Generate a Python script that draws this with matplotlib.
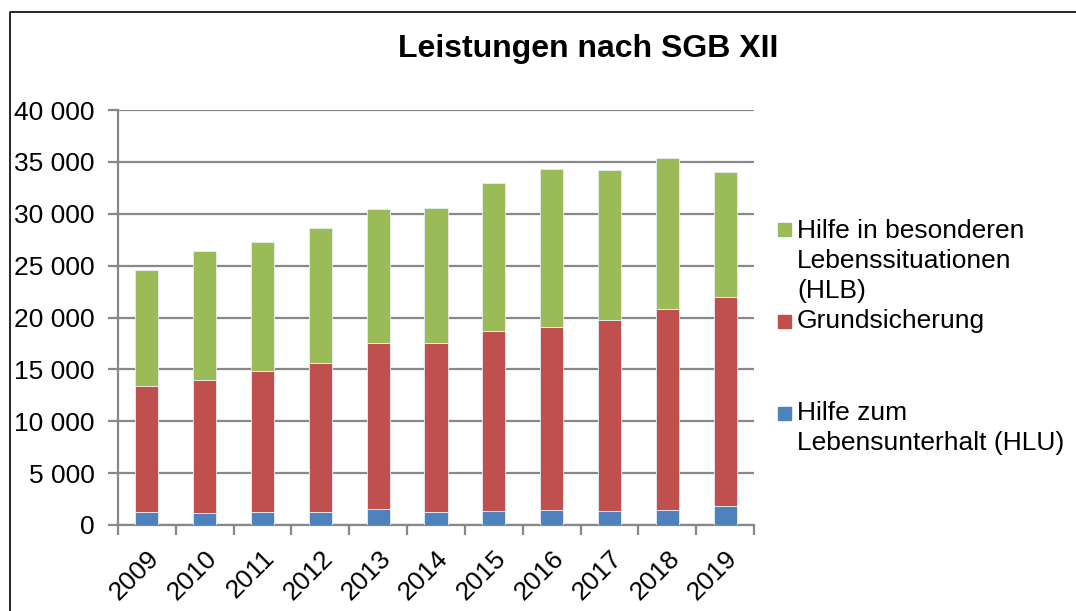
import matplotlib
matplotlib.use("Agg")
import matplotlib.pyplot as plt
from matplotlib.patches import Rectangle
from matplotlib.lines import Line2D
from matplotlib.ticker import FuncFormatter, MultipleLocator

plt.rcParams['font.family'] = ['Liberation Sans', 'DejaVu Sans']

years = ["2009", "2010", "2011", "2012", "2013", "2014", "2015", "2016", "2017", "2018", "2019"]
hlu = [1250, 1160, 1250, 1250, 1510, 1250, 1350, 1420, 1350, 1420, 1830]
grundsicherung = [12110, 12780, 13600, 14330, 16000, 16260, 17320, 17630, 18380, 19410, 20120]
hlb = [11230, 12490, 12450, 13030, 12940, 13070, 14320, 15230, 14480, 14510, 12100]

series_labels = [
    "Hilfe zum\nLebensunterhalt (HLU)",
    "Grundsicherung",
    "Hilfe in besonderen\nLebenssituationen\n(HLB)",
]
colors = ["#4F81BD", "#C0504D", "#9BBB59"]

W, H = 1076, 611
fig = plt.figure(figsize=(W / 100, H / 100), dpi=100)
ax = fig.add_axes([118 / W, 1 - 525 / H, (754 - 118) / W, (525 - 110) / H])

x = list(range(len(years)))
bottom = [0] * len(years)
for vals, col in zip([hlu, grundsicherung, hlb], colors):
    ax.bar(x, vals, width=0.4, bottom=bottom, color=col,
           edgecolor="#e8eef4", linewidth=0.6, zorder=3)
    bottom = [b + v for b, v in zip(bottom, vals)]

grid_col = "#888888"
ax.set_ylim(0, 40000)
ax.set_xlim(-0.5, len(years) - 0.5)
ax.yaxis.set_major_locator(MultipleLocator(5000))
ax.yaxis.set_major_formatter(FuncFormatter(lambda v, p: f"{int(v):,}".replace(",", " ")))
ax.grid(axis="y", color=grid_col, linewidth=1.6, zorder=0)

ax.set_xticks(x)
ax.set_xticklabels(years, rotation=45, ha="right", rotation_mode="anchor")
ax.set_xticks([i - 0.5 for i in range(len(years) + 1)], minor=True)
ax.tick_params(axis="x", which="major", length=0, pad=15, labelsize=19)
ax.tick_params(axis="x", which="minor", length=7, width=1.6, color=grid_col)
ax.tick_params(axis="y", length=7, width=1.6, color=grid_col, labelsize=19, pad=10)

for side in ["top", "right"]:
    ax.spines[side].set_visible(False)
for side in ["left", "bottom"]:
    ax.spines[side].set_color(grid_col)
    ax.spines[side].set_linewidth(1.6)

fig.text(588 / W, 1 - 49 / H, "Leistungen nach SGB XII", ha="center", va="center",
         fontsize=23, fontweight="bold")

# legend entries: colour square plus label lines on fixed baselines
legend_rows = [(2, 229.5, [238, 268, 298]), (1, 321.5, [328]), (0, 413.5, [420, 450])]
for idx, ymid, baselines in legend_rows:
    fig.patches.append(Rectangle((778 / W, 1 - (ymid + 6.5) / H), 13 / W, 13 / H,
                                 transform=fig.transFigure, color=colors[idx]))
    for line, yb in zip(series_labels[idx].split("\n"), baselines):
        fig.text(797 / W, 1 - yb / H, line, ha="left", va="baseline", fontsize=19)

# outer frame line
fig.add_artist(Line2D([10 / W, 10 / W, 1], [0, 1 - 12 / H, 1 - 12 / H],
                      transform=fig.transFigure, color="black", linewidth=1.2))

fig.savefig("out.png", dpi=100)
